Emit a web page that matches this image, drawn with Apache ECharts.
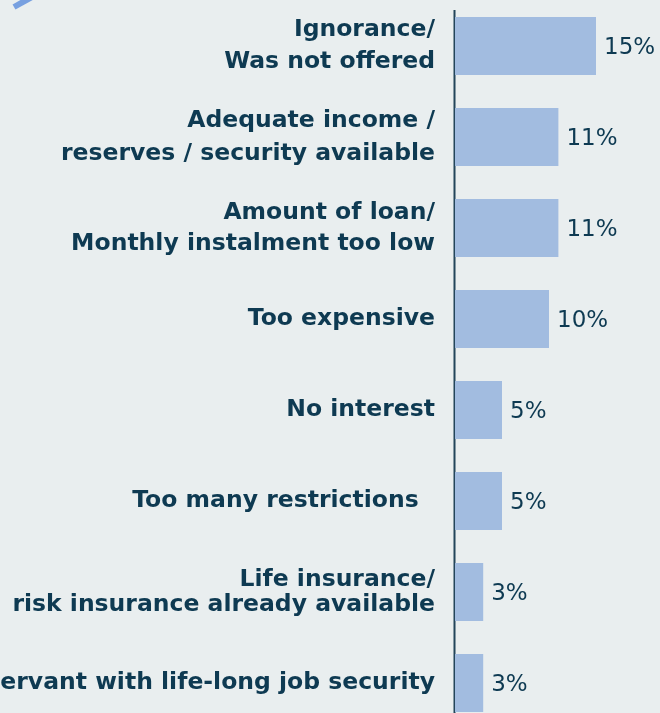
<!DOCTYPE html>
<html>
<head>
<meta charset="utf-8">
<script src="https://cdn.jsdelivr.net/npm/echarts@6/dist/echarts.min.js"></script>
<style>
  html, body { margin: 0; padding: 0; background: #e9eeef; }
  #chart { width: 660px; height: 713px; }
</style>
</head>
<body>
<div id="chart"></div>
<script>
// Reasons given for not taking out the product (share of respondents, %)
const categories = [
  'Ignorance/\nWas not offered',
  'Adequate income /\nreserves / security available',
  'Amount of loan/\nMonthly instalment too low',
  'Too expensive',
  'No interest',
  'Too many restrictions  ',
  'Life insurance/\nrisk insurance already available',
  'Civil servant with life-long job security'
];
const shares = [15, 11, 11, 10, 5, 5, 3, 3];
// line spacing of each two-line label
const labelLineHeights = [32, 33, 31, 30, 30, 30, 25, 30];

const navy = '#0e3a52';
const chart = echarts.init(document.getElementById('chart'));

chart.setOption({
  backgroundColor: '#e9eeef',
  animation: false,
  grid: {
    left: 455, top: 0.5, width: 188, height: 728,
    containLabel: false, outerBoundsMode: 'none'
  },
  xAxis: {
    type: 'value',
    min: 0,
    max: 20,
    show: false
  },
  yAxis: {
    type: 'category',
    inverse: true,
    data: categories.map((c, i) => ({
      value: c,
      textStyle: { lineHeight: labelLineHeights[i] }
    })),
    axisLine: { show: false },
    axisTick: { show: false },
    axisLabel: {
      margin: 20,
      color: navy,
      fontFamily: 'DejaVu Sans',
      fontWeight: 'bold',
      fontSize: 23.5,
      lineHeight: 30,
      align: 'right',
      padding: [5, 0, 0, 0]
    }
  },
  series: [{
    type: 'bar',
    data: shares,
    barCategoryGap: '36%',
    itemStyle: { color: '#a2bce0' },
    label: {
      show: true,
      position: 'right',
      distance: 8,
      offset: [0, 2],
      color: navy,
      fontFamily: 'DejaVu Sans',
      fontSize: 23,
      formatter: p => p.value + '%'
    }
  }]
});

// Vertical baseline at zero, placed through the value scale
const x0 = Math.round(chart.convertToPixel({ xAxisIndex: 0 }, 0)) - 0.5;
chart.setOption({
  graphic: [
    {
      type: 'line',
      shape: { x1: x0, y1: 10, x2: x0, y2: 713 },
      style: { stroke: '#23455a', lineWidth: 2 }
    },
    {
      // corner ornament
      type: 'line',
      shape: { x1: 14, y1: 7, x2: 32, y2: -3 },
      style: { stroke: '#77a0e0', lineWidth: 6 }
    }
  ]
});
</script>
</body>
</html>
